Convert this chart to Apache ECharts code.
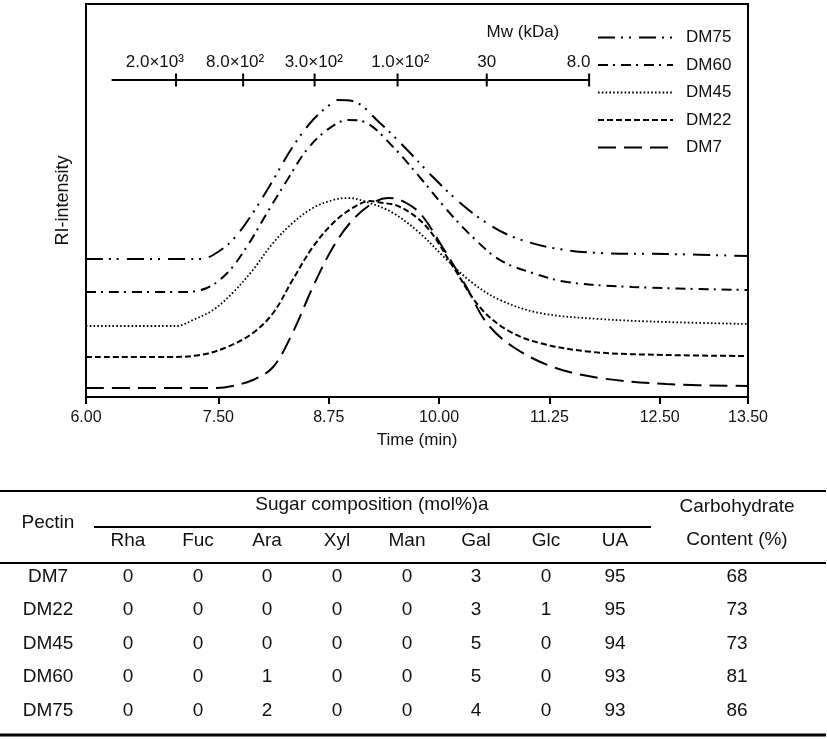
<!DOCTYPE html>
<html>
<head>
<meta charset="utf-8">
<title>HPSEC of DM pectins</title>
<script src="https://cdn.jsdelivr.net/npm/echarts@6/dist/echarts.min.js"></script>
<style>
html, body { margin: 0; padding: 0; background: #fff; }
#chart { width: 827px; height: 739px; }
</style>
</head>
<body>
<div id="chart"></div>
<script>
// RI traces, [time (min), intensity] (arbitrary units, stacked offsets)
var dm75 = [[6.00,138],[7.29,138],[7.44,142],[7.66,157],[7.89,184],[8.12,217],[8.34,250],[8.57,277],[8.80,295],[8.85,297],[9.02,296],[9.33,274],[9.64,247],[9.93,220],[10.24,194],[10.54,174],[10.84,160],[11.29,149],[11.82,144],[12.58,143],[13.50,141]];
var dm60 = [[6.00,105],[7.10,105],[7.37,109],[7.60,124],[7.82,150],[8.05,184],[8.28,217],[8.50,247],[8.73,267],[8.97,277],[9.18,274],[9.48,250],[9.78,220],[10.09,187],[10.38,160],[10.69,137],[11.06,124],[11.45,115],[12.19,110],[13.50,107]];
var dm45 = [[6.00,71],[7.03,71],[7.21,77],[7.44,87],[7.66,104],[7.89,127],[8.12,154],[8.34,174],[8.57,189],[8.80,197],[8.97,199],[9.18,195],[9.48,184],[9.78,164],[10.09,137],[10.38,114],[10.69,97],[11.14,84],[11.82,78],[12.58,75],[13.50,73]];
var dm22 = [[6.00,40],[6.92,40],[7.29,42],[7.60,50],[7.89,64],[8.12,84],[8.34,117],[8.57,150],[8.80,174],[9.02,189],[9.22,196],[9.30,195],[9.56,190],[9.86,170],[10.16,130],[10.46,90],[10.77,67],[11.14,54],[11.74,45],[12.58,42],[13.50,41]];
var dm7 = [[6.00,9],[7.48,9],[7.66,11],[7.89,17],[8.12,30],[8.34,64],[8.57,110],[8.80,150],[9.02,177],[9.25,194],[9.42,199],[9.56,197],[9.78,184],[10.01,154],[10.31,110],[10.54,74],[10.84,50],[11.29,30],[11.82,19],[12.58,13],[13.50,11]];

var seriesNames = ['DM75', 'DM60', 'DM45', 'DM22', 'DM7'];
var timeTicks = [6, 7.5, 8.75, 10, 11.25, 12.5, 13.5];

// molecular weight scale drawn inside the plot
var mwStart = 6.29;
var mwLevel = 317;
var mwTickTimes = [7.02, 7.78, 8.59, 9.53, 10.54, 11.70];
var mwLabelTimes = [6.78, 7.69, 8.58, 9.56, 10.54, 11.58];
var mwLabels = ['2.0×10³', '8.0×10²', '3.0×10²', '1.0×10²', '30', '8.0'];
var mwLabelLevel = 335;
var mwTitle = 'Mw (kDa)';
var mwTitlePos = [10.95, 365];

// table
var pectins = ['DM7', 'DM22', 'DM45', 'DM60', 'DM75'];
var sugars = ['Rha', 'Fuc', 'Ara', 'Xyl', 'Man', 'Gal', 'Glc', 'UA'];
var rha = [0, 0, 0, 0, 0];
var fuc = [0, 0, 0, 0, 0];
var ara = [0, 0, 0, 1, 2];
var xyl = [0, 0, 0, 0, 0];
var man = [0, 0, 0, 0, 0];
var gal = [3, 3, 5, 5, 4];
var glc = [0, 1, 0, 0, 0];
var ua = [95, 95, 94, 93, 93];
var carbohydrate = [68, 73, 73, 81, 86];

var FONT = '"Liberation Sans", Arial, Helvetica, sans-serif';
var INK = '#000';

var chart = echarts.init(document.getElementById('chart'), null, { renderer: 'canvas' });

function traceSeries(name, data, dash, width) {
    return {
        name: name,
        type: 'line',
        data: data,
        smooth: 0.35,
        symbol: 'none',
        silent: true,
        lineStyle: { color: '#000', width: width || 2, type: dash },
        itemStyle: { color: '#000' }
    };
}

// table built from graphic elements
function tableGraphics() {
    var els = [];
    var colX = [48, 128, 198, 267, 337, 407, 476, 546, 615, 737];
    var rowY = [577, 610, 644, 677, 711];
    var cols = [pectins, rha, fuc, ara, xyl, man, gal, glc, ua, carbohydrate];
    function txt(s, x, y) {
        els.push({
            type: 'text', x: x, y: y, silent: true,
            style: { text: String(s), fill: '#111', font: '19px ' + FONT,
                     align: 'center', verticalAlign: 'middle',
                     textAlign: 'center', textVerticalAlign: 'middle' }
        });
    }
    function rule(x1, x2, y, w) {
        els.push({ type: 'line', silent: true, shape: { x1: x1, y1: y, x2: x2, y2: y },
                   style: { stroke: '#000', lineWidth: w } });
    }
    rule(0, 826, 491, 2);
    rule(94, 651, 527, 2);
    rule(0, 826, 563, 2);
    rule(0, 826, 735, 3);
    txt('Pectin', colX[0], 523);
    txt('Sugar composition (mol%)a', 372, 505);
    txt('Carbohydrate', colX[9], 507);
    txt('Content (%)', colX[9], 540);
    sugars.forEach(function (s, i) { txt(s, colX[i + 1], 541); });
    cols.forEach(function (col, c) {
        col.forEach(function (v, r) { txt(v, colX[c], rowY[r]); });
    });
    return els;
}

var option = {
    animation: false,
    backgroundColor: '#fff',
    textStyle: { fontFamily: FONT, color: INK },
    grid: {
        left: 86, right: 79, top: 4, bottom: 342,
        show: true, borderColor: '#000', borderWidth: 2, backgroundColor: 'transparent'
    },
    legend: {
        data: seriesNames,
        orient: 'vertical',
        left: 592, top: 24,
        itemWidth: 75, itemHeight: 14, itemGap: 10.5,
        selectedMode: false,
        itemStyle: { opacity: 0 },
        textStyle: { fontSize: 17, color: '#111', fontFamily: FONT, padding: [0, 0, 0, 8] }
    },
    xAxis: {
        type: 'value',
        min: 6, max: 13.5,
        name: 'Time (min)',
        nameLocation: 'middle',
        nameGap: 35,
        nameTextStyle: { fontSize: 17, color: '#111', fontFamily: FONT },
        axisLine: { lineStyle: { color: '#000', width: 2 } },
        axisTick: { show: true, inside: false, length: 7, customValues: timeTicks,
                    lineStyle: { color: '#000', width: 2 } },
        axisLabel: { customValues: timeTicks, margin: 13, fontSize: 16, color: '#111', fontFamily: FONT,
                     formatter: function (v) { return v.toFixed(2); } },
        splitLine: { show: false }
    },
    yAxis: {
        type: 'value',
        min: 0, max: 393,
        name: 'RI-intensity',
        nameLocation: 'middle',
        nameGap: 14,
        nameTextStyle: { fontSize: 18, color: '#111', fontFamily: FONT },
        axisLine: { show: true, lineStyle: { color: '#000', width: 2 } },
        axisTick: { show: false },
        axisLabel: { show: false },
        splitLine: { show: false }
    },
    series: [
        traceSeries('DM75', dm75, [17, 6, 2, 6, 2, 8]),
        traceSeries('DM60', dm60, [10, 5, 2, 6]),
        traceSeries('DM45', dm45, [1.6, 2.2], 1.8),
        traceSeries('DM22', dm22, [6, 3]),
        traceSeries('DM7', dm7, [18, 8]),
        {
            name: 'Mw axis',
            type: 'line',
            silent: true,
            symbol: 'rect',
            symbolSize: [2, 13],
            showSymbol: true,
            itemStyle: { color: '#000' },
            lineStyle: { color: '#000', width: 2, type: 'solid' },
            data: [{ value: [mwStart, mwLevel], symbol: 'none' }].concat(
                mwTickTimes.map(function (t) { return [t, mwLevel]; }))
        },
        {
            name: 'Mw labels',
            type: 'scatter',
            silent: true,
            symbolSize: 0,
            itemStyle: { color: '#000', opacity: 1 },
            label: { show: true, position: 'inside', formatter: '{b}',
                     fontSize: 17, color: '#111', opacity: 1, fontFamily: FONT,
                     textBorderWidth: 0 },
            data: mwLabelTimes.map(function (t, i) {
                return { name: mwLabels[i], value: [t, mwLabelLevel] };
            }).concat([{ name: mwTitle, value: mwTitlePos }])
        }
    ],
    graphic: tableGraphics()
};

chart.setOption(option);
</script>
</body>
</html>
